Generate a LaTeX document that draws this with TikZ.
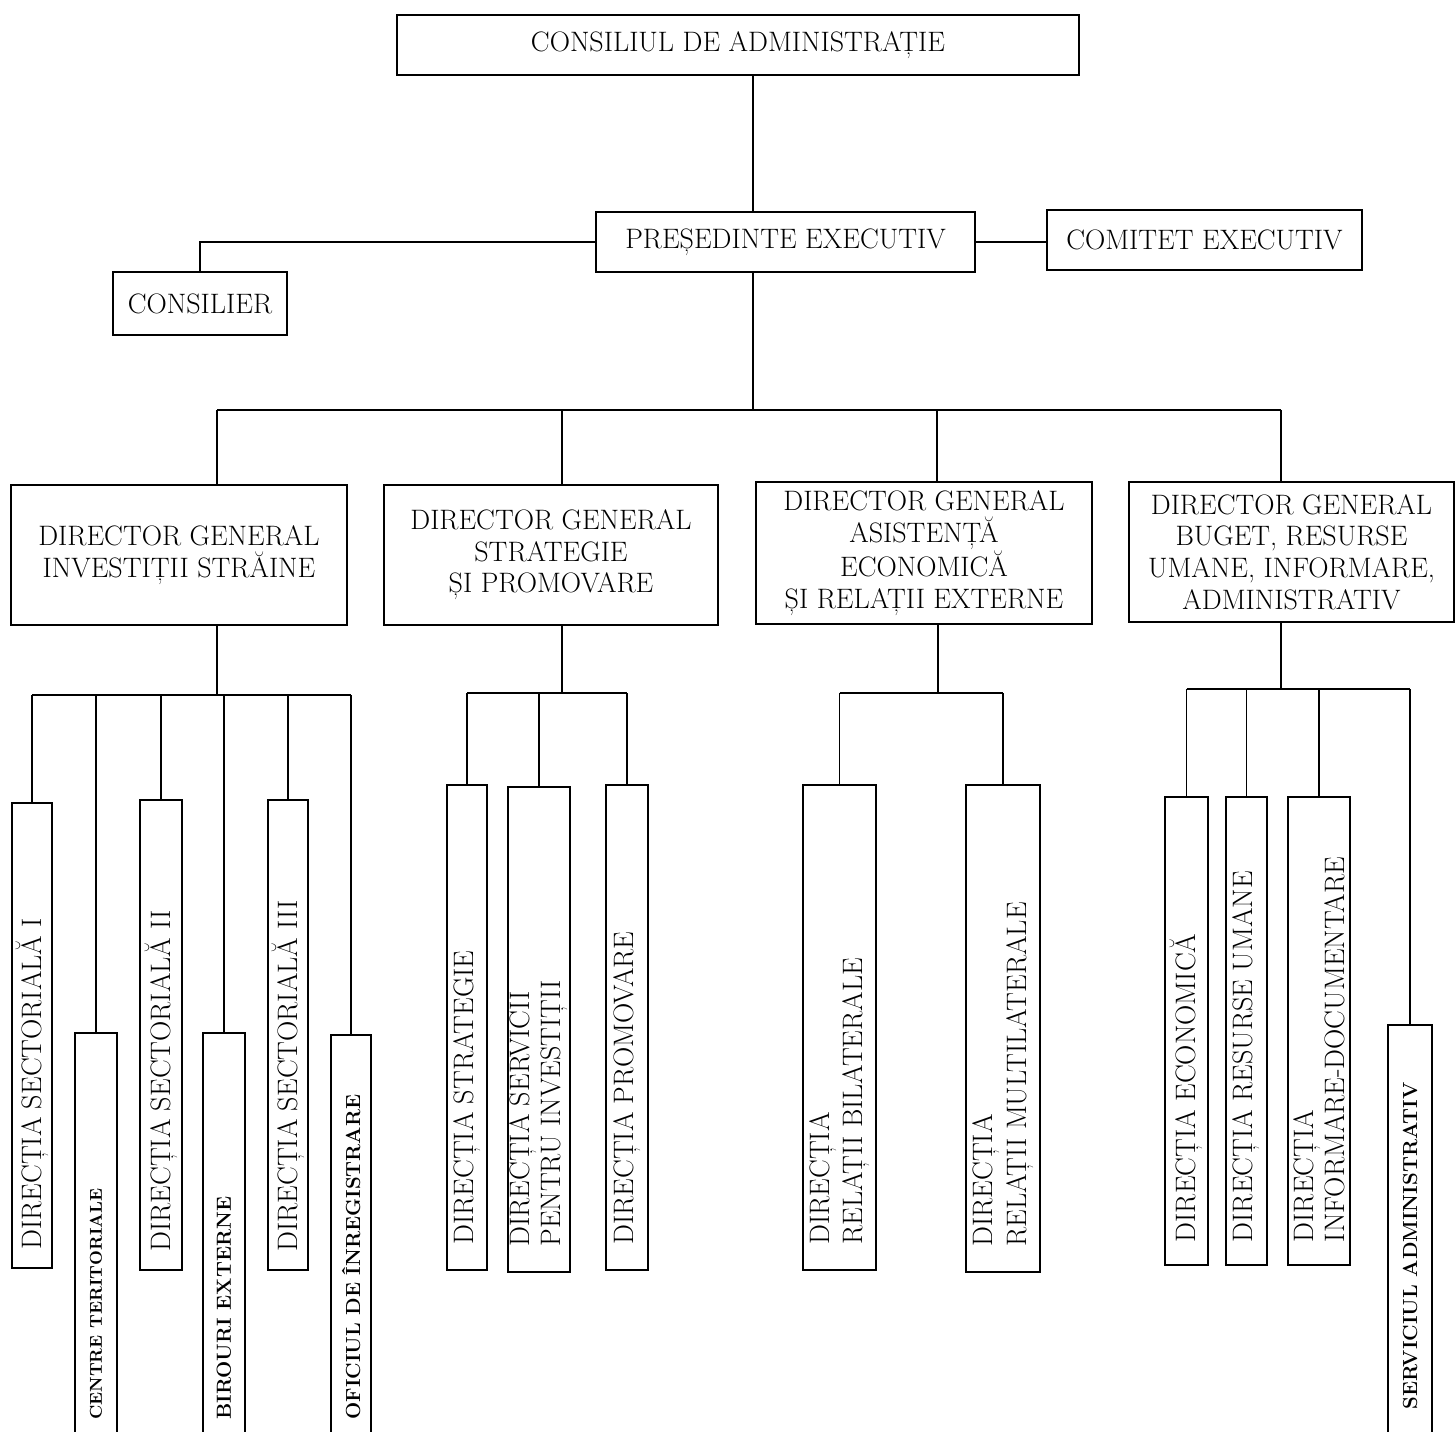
\documentclass[tikz,border=0pt]{standalone}
\usepackage{fontspec}
\tikzset{
  box/.style={draw, line width=1.3pt, inner sep=2pt, outer sep=0pt, align=center,
    font=\fontsize{16}{18}\selectfont},
  vbox/.style={draw, line width=1.3pt, inner sep=0pt, outer sep=0pt},
  vtext/.style={rotate=90, anchor=west, align=left, inner sep=0pt,
    font=\fontsize{16}{17.5}\selectfont},
  vsmall/.style={vtext, font=\fontsize{11.6}{13}\selectfont\bfseries},
  link/.style={line width=0.9pt},
}
\begin{document}
\begin{tikzpicture}[x=0.02cm, y=-0.02cm]
  \useasboundingbox (0,0) rectangle (1456,1432);

  % upper levels
  \node[box, minimum width=13.64cm, minimum height=1.2cm] (cons) at (738,45) {CONSILIUL DE ADMINISTRAȚIE};
  \node[box, minimum width=7.58cm, minimum height=1.2cm] (pres) at (785.5,242) {PREȘEDINTE EXECUTIV};
  \node[box, minimum width=6.3cm, minimum height=1.2cm] (com) at (1204.5,240) {COMITET EXECUTIV};
  \node[box, minimum width=3.48cm, minimum height=1.26cm] (consilier) at (200,303.5) {CONSILIER};

  % directors
  \node[box, minimum width=6.72cm, minimum height=2.8cm] (dg1) at (179,555) {DIRECTOR GENERAL\\INVESTIȚII STRĂINE};
  \node[box, minimum width=6.68cm, minimum height=2.8cm] (dg2) at (551,555) {DIRECTOR GENERAL\\STRATEGIE\\ȘI PROMOVARE};
  \node[box, minimum width=6.72cm, minimum height=2.84cm] (dg3) at (924,553) {DIRECTOR GENERAL\\ASISTENȚĂ\\ECONOMICĂ\\ȘI RELAȚII EXTERNE};
  \node[box, minimum width=6.5cm, minimum height=2.8cm] (dg4) at (1291.5,552) {DIRECTOR GENERAL\\BUGET, RESURSE\\UMANE, INFORMARE,\\ADMINISTRATIV};

  % directions
  \node[vbox, minimum width=0.8cm, minimum height=9.3cm] (ds1) at (32,1035.5) {};
  \node[vbox, minimum width=0.84cm, minimum height=8.14cm] (ct) at (96,1236.5) {};
  \node[vbox, minimum width=0.84cm, minimum height=9.4cm] (ds2) at (161,1035) {};
  \node[vbox, minimum width=0.84cm, minimum height=8.14cm] (be) at (224,1236.5) {};
  \node[vbox, minimum width=0.8cm, minimum height=9.4cm] (ds3) at (288,1035) {};
  \node[vbox, minimum width=0.8cm, minimum height=8.1cm] (oi) at (351,1237.5) {};

  \node[vbox, minimum width=0.8cm, minimum height=9.7cm] (dst) at (467,1027.5) {};
  \node[vbox, minimum width=1.24cm, minimum height=9.7cm] (dspi) at (539,1029.5) {};
  \node[vbox, minimum width=0.84cm, minimum height=9.7cm] (dp) at (627,1027.5) {};

  \node[vbox, minimum width=1.46cm, minimum height=9.7cm] (drb) at (839.5,1027.5) {};
  \node[vbox, minimum width=1.48cm, minimum height=9.74cm] (drm) at (1003,1028.5) {};

  \node[vbox, minimum width=0.86cm, minimum height=9.36cm] (de) at (1186.5,1031) {};
  \node[vbox, minimum width=0.82cm, minimum height=9.36cm] (dru) at (1246.5,1031) {};
  \node[vbox, minimum width=1.24cm, minimum height=9.36cm] (did) at (1319,1031) {};
  \node[vbox, minimum width=0.88cm, minimum height=8.3cm] (sa) at (1410,1232.5) {};

  % texts of the directions
  \node[vtext] (ds1t) at ([yshift=0.36cm]ds1.south) {DIRECȚIA SECTORIALĂ I};
  \node[vsmall, font=\fontsize{9.8}{12}\selectfont\bfseries] (ctt) at ([yshift=0.4cm]ct.south) {CENTRE TERITORIALE};
  \node[vtext] (ds2t) at ([yshift=0.36cm]ds2.south) {DIRECȚIA SECTORIALĂ II};
  \node[vsmall] (bet) at ([yshift=0.4cm]be.south) {BIROURI EXTERNE};
  \node[vtext] (ds3t) at ([yshift=0.36cm]ds3.south) {DIRECȚIA SECTORIALĂ III};
  \node[vsmall] (oit) at ([yshift=0.4cm]oi.south) {OFICIUL DE ÎNREGISTRARE};
  \node[vtext] (dstt) at ([yshift=0.5cm]dst.south) {DIRECȚIA STRATEGIE};
  \node[vtext] (dspit) at ([yshift=0.5cm]dspi.south) {DIRECȚIA SERVICII\\PENTRU INVESTIȚII};
  \node[vtext] (dpt) at ([yshift=0.5cm]dp.south) {DIRECȚIA PROMOVARE};
  \node[vtext, font=\fontsize{16}{19}\selectfont] (drbt) at ([yshift=0.5cm]drb.south) {DIRECȚIA\\RELAȚII BILATERALE};
  \node[vtext, font=\fontsize{16}{19}\selectfont] (drmt) at ([yshift=0.5cm]drm.south) {DIRECȚIA\\RELAȚII MULTILATERALE};
  \node[vtext] (det) at ([yshift=0.45cm]de.south) {DIRECȚIA ECONOMICĂ};
  \node[vtext] (drut) at ([yshift=0.45cm]dru.south) {DIRECȚIA RESURSE UMANE};
  \node[vtext] (didt) at ([yshift=0.45cm]did.south) {DIRECȚIA\\INFORMARE-DOCUMENTARE};
  \node[vsmall] (sat) at ([yshift=0.6cm]sa.south) {SERVICIUL ADMINISTRATIV};

  % connectors
  \coordinate (trunk) at (753,410);
  \draw[link] (cons.south -| trunk) -- (pres.north -| trunk);
  \draw[link] (pres.south -| trunk) -- (trunk);
  \draw[link] (pres.west) -- (pres.west -| consilier) -- (consilier.north);
  \draw[link] (pres.east) -- (pres.east -| com.west);

  \coordinate (c1) at (217,410);
  \coordinate (c2) at (562,410);
  \coordinate (c3) at (937,410);
  \coordinate (c4) at (1281,410);
  \draw[link] (c1) -- (c4);
  \draw[link] (c1) -- (c1 |- dg1.north);
  \draw[link] (c2) -- (c2 |- dg2.north);
  \draw[link] (c3) -- (c3 |- dg3.north);
  \draw[link] (c4) -- (c4 |- dg4.north);

  \coordinate (g1) at (217,695);
  \coordinate (g2) at (562,693);
  \coordinate (g3) at (938,693);
  \coordinate (g4) at (1281,689);
  \draw[link] (dg1.south -| g1) -- (g1);
  \draw[link] (dg2.south -| g2) -- (g2);
  \draw[link] (dg3.south -| g3) -- (g3);
  \draw[link] (dg4.south -| g4) -- (g4);

  \draw[link] (ds1.north |- g1) -- (oi.north |- g1);
  \foreach \b in {ds1,ct,ds2,be,ds3,oi}
    \draw[link] (\b.north |- g1) -- (\b.north);
  \draw[link] (dst.north |- g2) -- (dp.north |- g2);
  \foreach \b in {dst,dspi,dp}
    \draw[link] (\b.north |- g2) -- (\b.north);
  \draw[link] (drb.north |- g3) -- (drm.north |- g3);
  \foreach \b in {drb,drm}
    \draw[link] (\b.north |- g3) -- (\b.north);
  \draw[link] (de.north |- g4) -- (sa.north |- g4);
  \foreach \b in {de,dru,did,sa}
    \draw[link] (\b.north |- g4) -- (\b.north);
\end{tikzpicture}
\end{document}
